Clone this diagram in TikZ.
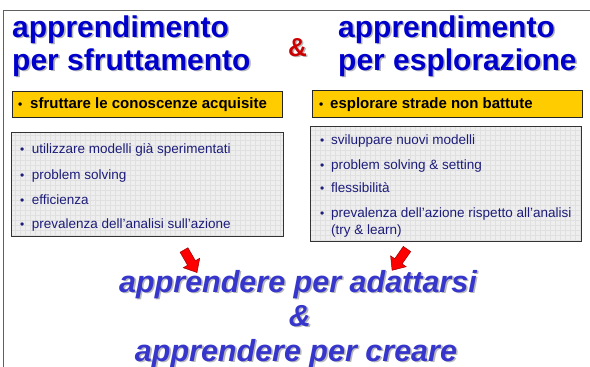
\documentclass[tikz,border=0pt]{standalone}
\usepackage{fontspec}
\setmainfont{Liberation Sans}
\usetikzlibrary{shadows}
\definecolor{titleblue}{HTML}{0000CC}
\definecolor{botblue}{HTML}{3636CC}
\definecolor{ampred}{HTML}{CC0000}
\definecolor{boxyellow}{HTML}{FFCC00}
\definecolor{itemnavy}{HTML}{1C1C7A}
\definecolor{gridbg}{HTML}{EEEEEE}
\definecolor{gridln}{HTML}{E0E0E0}
\definecolor{shadowgray}{HTML}{B8B8B8}
\definecolor{framegray}{HTML}{606060}
\newcommand\shd[2]{\rlap{\hspace{1.6pt}\raisebox{-1.6pt}{\color{shadowgray}#2}}{\color{#1}#2}}
\begin{document}
\begin{tikzpicture}[x=1pt,y=-1pt,
  title/.style={anchor=base west, inner sep=0pt, font=\fontsize{30}{33}\selectfont\bfseries},
  ampersand/.style={anchor=base, inner sep=0pt, font=\fontsize{26}{30}\selectfont\bfseries},
  keybox/.style={draw=black!85, fill=boxyellow, line width=0.8pt, inner sep=0pt,
     drop shadow={shadow xshift=1.2pt, shadow yshift=-1.2pt, fill=black!55, opacity=1}},
  listbox/.style={fill=gridbg, inner sep=0pt,
     drop shadow={shadow xshift=1.2pt, shadow yshift=-1.2pt, fill=black!55, opacity=1}},
  boxline/.style={draw=black!80, line width=0.8pt},
  keytext/.style={anchor=base west, inner sep=0pt, font=\fontsize{15}{18}\selectfont\bfseries},
  item/.style={anchor=base west, inner sep=0pt, text=itemnavy, font=\fontsize{13.5}{16}\selectfont},
  bottom/.style={anchor=base, inner sep=0pt, font=\fontsize{30.5}{34}\selectfont\bfseries\itshape},
  redarrow/.style={fill=red, draw=red!60!black, line width=0.5pt, line join=miter},
  frame/.style={draw=framegray, line width=1pt}]
\useasboundingbox (0,0) rectangle (590,367);
% frame
\draw[frame] (3,367) -- (3,10) -- (590,10);
% titles
\node[title] (tl1) at (12,37) {\shd{titleblue}{apprendimento}};
\node[title] (tl2) at (12,70) {\shd{titleblue}{per sfruttamento}};
\node[title] (tr1) at (338,37) {\shd{titleblue}{apprendimento}};
\node[title] (tr2) at (338,70) {\shd{titleblue}{per esplorazione}};
\node[ampersand] (amp) at (297.5,56) {\shd{ampred}{\&}};
% key boxes
\node[keybox, minimum width=270pt, minimum height=26pt] (y1) at (147,104) {};
\node[keybox, minimum width=270pt, minimum height=27pt] (y2) at (447,103.5) {};
\node[keytext] (k1) at (18,108.5) {\makebox[12pt][l]{\large•}sfruttare le conoscenze acquisite};
\node[keytext] (k2) at (319,108.5) {\makebox[11pt][l]{\large•}esplorare strade non battute};
% list boxes
\node[listbox, minimum width=271pt, minimum height=103pt] (g1) at (147.5,184.5) {};
\node[listbox, minimum width=270pt, minimum height=114pt] (g2) at (446,184) {};
\begin{scope}
  \clip (g1.north west) rectangle (g1.south east);
  \draw[gridln, line width=0.4pt, step=5pt] (g1.north west) grid (g1.south east);
\end{scope}
\begin{scope}
  \clip (g2.north west) rectangle (g2.south east);
  \draw[gridln, line width=0.4pt, step=5pt] (g2.north west) grid (g2.south east);
\end{scope}
\draw[boxline] (g1.north west) rectangle (g1.south east);
\draw[boxline] (g2.north west) rectangle (g2.south east);
% left items
\node[item] (l1) at (20,153) {\makebox[11.7pt][l]{\large•}utilizzare modelli già sperimentati};
\node[item] (l2) at (20,179) {\makebox[11.7pt][l]{\large•}problem solving};
\node[item] (l3) at (20,204) {\makebox[11.7pt][l]{\large•}efficienza};
\node[item] (l4) at (20,228) {\makebox[11.7pt][l]{\large•}prevalenza dell’analisi sull’azione};
% right items
\node[item] (r1) at (320,144) {\makebox[11pt][l]{\large•}sviluppare nuovi modelli};
\node[item] (r2) at (320,169) {\makebox[11pt][l]{\large•}problem solving \& setting};
\node[item] (r3) at (320,192.5) {\makebox[11pt][l]{\large•}flessibilità};
\node[item] (r4) at (320,217) {\makebox[11pt][l]{\large•}prevalenza dell’azione rispetto all’analisi};
\node[item] (r5) at (331,234) {(try \& learn)};
% bottom text
\node[bottom] (b1) at (298,292) {\shd{botblue}{apprendere per adattarsi}};
\node[bottom] (b2) at (300,326) {\shd{botblue}{\&}};
\node[bottom] (b3) at (296,361) {\shd{botblue}{apprendere per creare}};
% red block arrows
\begin{scope}[shift={(184,250)}, rotate=-60]
  \draw[redarrow] (0,4.5) -- (15,4.5) -- (15,9.5) -- (26,0) -- (15,-9.5) -- (15,-4.5) -- (0,-4.5) -- cycle;
\end{scope}
\begin{scope}[shift={(407,249)}, rotate=-125]
  \draw[redarrow] (0,4.5) -- (15,4.5) -- (15,9.5) -- (26,0) -- (15,-9.5) -- (15,-4.5) -- (0,-4.5) -- cycle;
\end{scope}
\end{tikzpicture}
\end{document}
